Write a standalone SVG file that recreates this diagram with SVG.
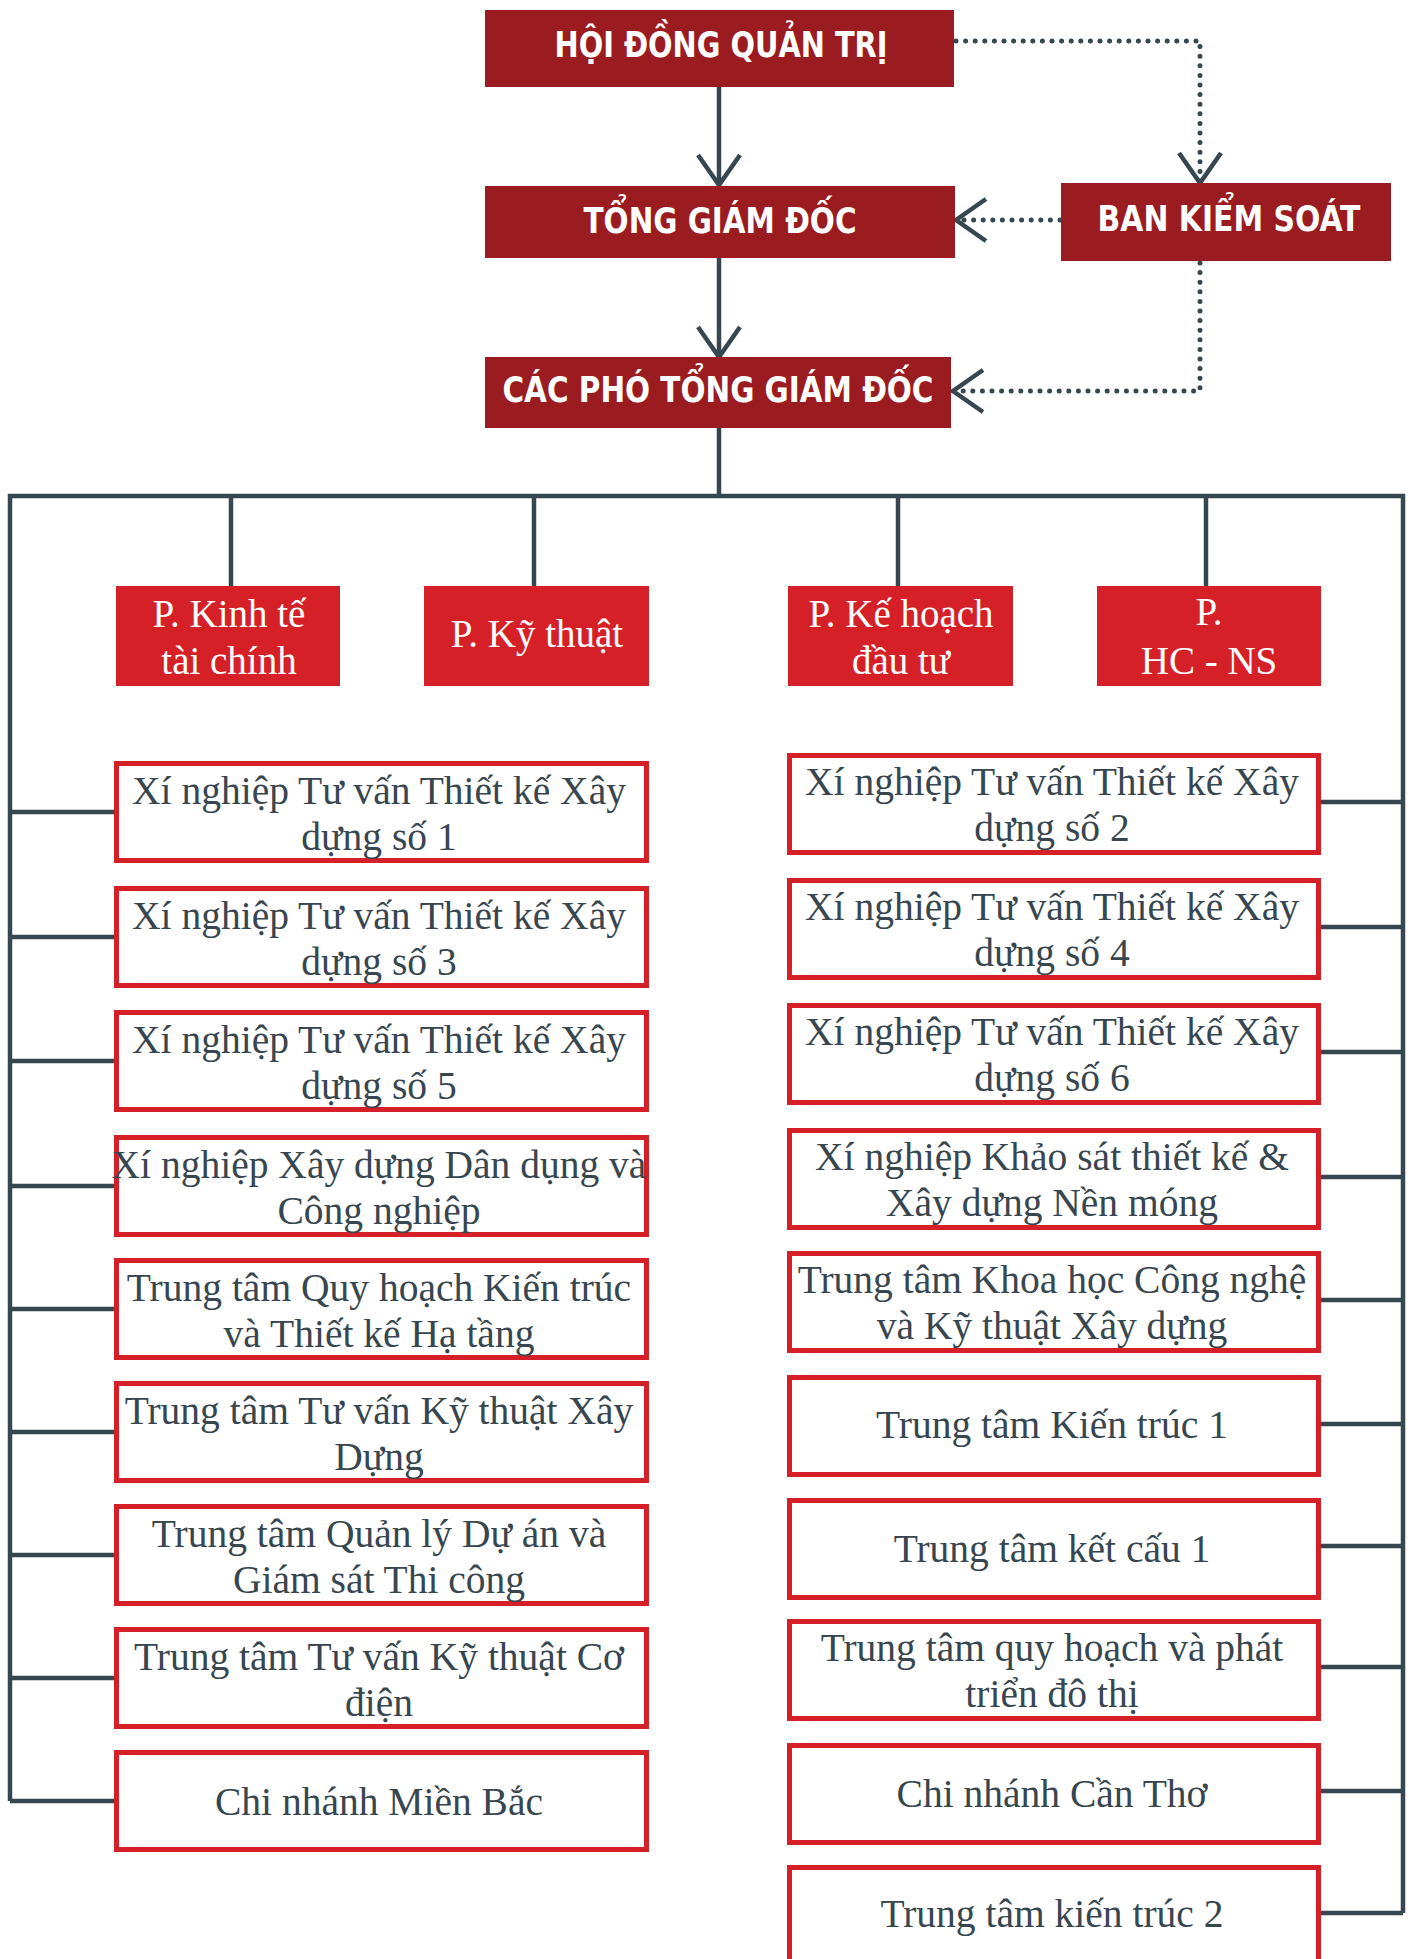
<svg xmlns="http://www.w3.org/2000/svg" width="1412" height="1959" viewBox="0 0 1412 1959">
<style>
.top{fill:#9B1C20}
.dept{fill:#D62027}
.unit{fill:#FFFFFF;stroke:#D62027;stroke-width:5}
.tt{fill:#FFFFFF;font-family:"Liberation Sans Narrow","DejaVu Sans Condensed","Liberation Sans",sans-serif;font-weight:bold;font-size:36px;text-anchor:middle}
.dt{fill:#FFFFFF;font-family:"Liberation Serif","DejaVu Serif",serif;font-size:39px;text-anchor:middle}
.ut{fill:#37464F;font-family:"Liberation Serif","DejaVu Serif",serif;font-size:39.5px;text-anchor:middle}
.ln{fill:none;stroke:#37474F;stroke-width:4.5}
.dot{fill:none;stroke:#37474F;stroke-width:5;stroke-dasharray:0 9.6;stroke-linecap:round}
</style>
<defs>
<marker id="chev" markerUnits="userSpaceOnUse" markerWidth="40" markerHeight="50" viewBox="-35 -25 40 50" refX="0" refY="0" orient="auto" overflow="visible">
<path d="M-30,-21 L0,0 L-30,21" fill="none" stroke="#37474F" stroke-width="4.5"/>
</marker>
</defs>
<rect width="1412" height="1959" fill="#FFFFFF"/>

<g id="connectors">
<path class="ln" d="M719,87 V185" marker-end="url(#chev)"/>
<path class="ln" d="M719,258 V357" marker-end="url(#chev)"/>
<path class="dot" d="M956,41 H1200 V183" marker-end="url(#chev)"/>
<path class="dot" d="M1060,220 H956" marker-end="url(#chev)"/>
<path class="dot" d="M1200,263 V391 H953" marker-end="url(#chev)"/>
<path class="ln" d="M719,428 V496"/>
<path class="ln" d="M10,1801 V496 H1403 V1913"/>
<path class="ln" d="M231,496 V586 M534,496 V586 M898,496 V586 M1206,496 V586"/>
<path class="ln" d="M10,812 H114 M10,937 H114 M10,1061 H114 M10,1186 H114 M10,1309 H114 M10,1432 H114 M10,1555 H114 M10,1678 H114 M10,1801 H114"/>
<path class="ln" d="M1321,802 H1403 M1321,927 H1403 M1321,1052 H1403 M1321,1177 H1403 M1321,1300 H1403 M1321,1424 H1403 M1321,1546 H1403 M1321,1667 H1403 M1321,1791 H1403 M1321,1913 H1403"/>
</g>

<g id="hdqt"><rect class="top" x="485" y="10" width="469" height="77"/><text class="tt" x="721" y="57" textLength="333" lengthAdjust="spacingAndGlyphs">HỘI ĐỒNG QUẢN TRỊ</text></g>
<g id="tgd"><rect class="top" x="485" y="186" width="470" height="72"/><text class="tt" x="720" y="233" textLength="273" lengthAdjust="spacingAndGlyphs">TỔNG GIÁM ĐỐC</text></g>
<g id="bks"><rect class="top" x="1061" y="183" width="330" height="78"/><text class="tt" x="1229" y="231" textLength="263" lengthAdjust="spacingAndGlyphs">BAN KIỂM SOÁT</text></g>
<g id="pho-tgd"><rect class="top" x="485" y="357" width="466" height="71"/><text class="tt" x="718" y="402" textLength="431" lengthAdjust="spacingAndGlyphs">CÁC PHÓ TỔNG GIÁM ĐỐC</text></g>

<g id="p-ktt"><rect class="dept" x="116" y="586" width="224" height="100"/><text class="dt" x="229" y="627">P. Kinh tế</text><text class="dt" x="229" y="674">tài chính</text></g>
<g id="p-kt"><rect class="dept" x="424" y="586" width="225" height="100"/><text class="dt" x="537" y="647">P. Kỹ thuật</text></g>
<g id="p-khdt"><rect class="dept" x="788" y="586" width="225" height="100"/><text class="dt" x="901" y="627">P. Kế hoạch</text><text class="dt" x="901" y="674">đầu tư</text></g>
<g id="p-hcns"><rect class="dept" x="1097" y="586" width="224" height="100"/><text class="dt" x="1209" y="625">P.</text><text class="dt" x="1209" y="674">HC - NS</text></g>

<g id="l1"><rect class="unit" x="116.5" y="763.5" width="530" height="97"/><text class="ut" x="379" y="804">Xí nghiệp Tư vấn Thiết kế Xây</text><text class="ut" x="379" y="850">dựng số 1</text></g>
<g id="l2"><rect class="unit" x="116.5" y="888.5" width="530" height="97"/><text class="ut" x="379" y="929">Xí nghiệp Tư vấn Thiết kế Xây</text><text class="ut" x="379" y="975">dựng số 3</text></g>
<g id="l3"><rect class="unit" x="116.5" y="1012.5" width="530" height="97"/><text class="ut" x="379" y="1053">Xí nghiệp Tư vấn Thiết kế Xây</text><text class="ut" x="379" y="1099">dựng số 5</text></g>
<g id="l4"><rect class="unit" x="116.5" y="1137.5" width="530" height="97"/><text class="ut" x="379" y="1178">Xí nghiệp Xây dựng Dân dụng và</text><text class="ut" x="379" y="1224">Công nghiệp</text></g>
<g id="l5"><rect class="unit" x="116.5" y="1260.5" width="530" height="97"/><text class="ut" x="379" y="1301">Trung tâm Quy hoạch Kiến trúc</text><text class="ut" x="379" y="1347">và Thiết kế Hạ tầng</text></g>
<g id="l6"><rect class="unit" x="116.5" y="1383.5" width="530" height="97"/><text class="ut" x="379" y="1424">Trung tâm Tư vấn Kỹ thuật Xây</text><text class="ut" x="379" y="1470">Dựng</text></g>
<g id="l7"><rect class="unit" x="116.5" y="1506.5" width="530" height="97"/><text class="ut" x="379" y="1547">Trung tâm Quản lý Dự án và</text><text class="ut" x="379" y="1593">Giám sát Thi công</text></g>
<g id="l8"><rect class="unit" x="116.5" y="1629.5" width="530" height="97"/><text class="ut" x="379" y="1670">Trung tâm Tư vấn Kỹ thuật Cơ</text><text class="ut" x="379" y="1716">điện</text></g>
<g id="l9"><rect class="unit" x="116.5" y="1752.5" width="530" height="97"/><text class="ut" x="379" y="1815">Chi nhánh Miền Bắc</text></g>

<g id="r1"><rect class="unit" x="789.5" y="755.5" width="529" height="97"/><text class="ut" x="1052" y="795">Xí nghiệp Tư vấn Thiết kế Xây</text><text class="ut" x="1052" y="841">dựng số 2</text></g>
<g id="r2"><rect class="unit" x="789.5" y="880.5" width="529" height="97"/><text class="ut" x="1052" y="920">Xí nghiệp Tư vấn Thiết kế Xây</text><text class="ut" x="1052" y="966">dựng số 4</text></g>
<g id="r3"><rect class="unit" x="789.5" y="1005.5" width="529" height="97"/><text class="ut" x="1052" y="1045">Xí nghiệp Tư vấn Thiết kế Xây</text><text class="ut" x="1052" y="1091">dựng số 6</text></g>
<g id="r4"><rect class="unit" x="789.5" y="1130.5" width="529" height="97"/><text class="ut" x="1052" y="1170">Xí nghiệp Khảo sát thiết kế &amp;</text><text class="ut" x="1052" y="1216">Xây dựng Nền móng</text></g>
<g id="r5"><rect class="unit" x="789.5" y="1253.5" width="529" height="97"/><text class="ut" x="1052" y="1293">Trung tâm Khoa học Công nghệ</text><text class="ut" x="1052" y="1339">và Kỹ thuật Xây dựng</text></g>
<g id="r6"><rect class="unit" x="789.5" y="1377.5" width="529" height="97"/><text class="ut" x="1052" y="1438">Trung tâm Kiến trúc 1</text></g>
<g id="r7"><rect class="unit" x="789.5" y="1500.5" width="529" height="97"/><text class="ut" x="1052" y="1562">Trung tâm kết cấu 1</text></g>
<g id="r8"><rect class="unit" x="789.5" y="1621.5" width="529" height="97"/><text class="ut" x="1052" y="1661">Trung tâm quy hoạch và phát</text><text class="ut" x="1052" y="1707">triển đô thị</text></g>
<g id="r9"><rect class="unit" x="789.5" y="1745.5" width="529" height="97"/><text class="ut" x="1052" y="1807">Chi nhánh Cần Thơ</text></g>
<g id="r10"><rect class="unit" x="789.5" y="1867.5" width="529" height="120"/><text class="ut" x="1052" y="1927">Trung tâm kiến trúc 2</text></g>
</svg>
